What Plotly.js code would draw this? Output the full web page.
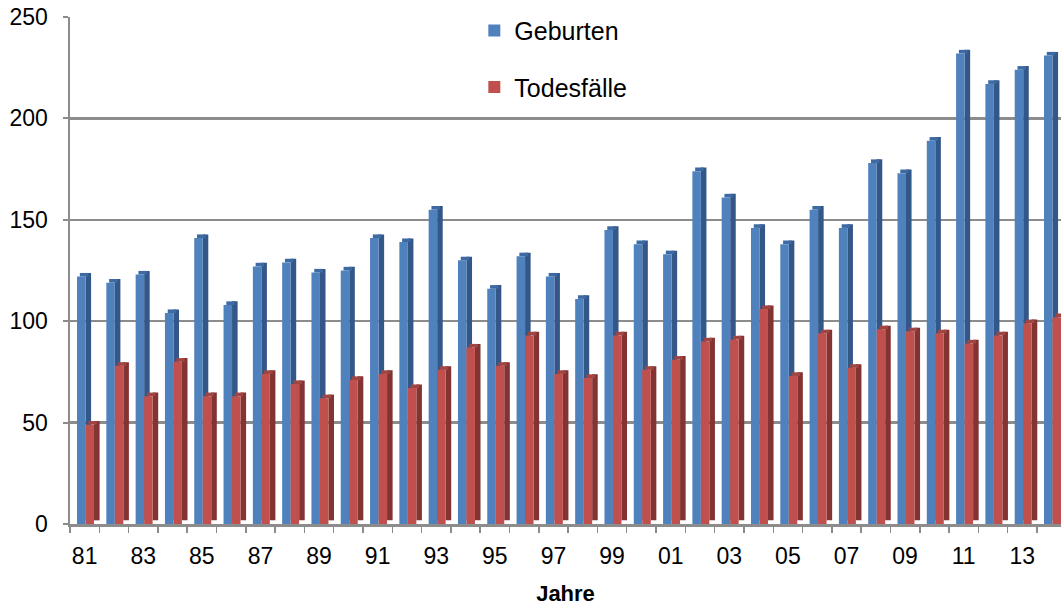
<!DOCTYPE html>
<html>
<head>
<meta charset="utf-8">
<script src="https://cdn.plot.ly/plotly-3.0.1.min.js"></script>
<style>html,body{margin:0;padding:0;background:#fff;}#chart{width:1061px;height:606px;}</style>
</head>
<body>
<div id="chart"></div>
<script>
// Data
var years = ['81','82','83','84','85','86','87','88','89','90','91','92','93','94','95','96','97','98','99','00','01','02','03','04','05','06','07','08','09','10','11','12','13','14'];
var geburten = [122,119,123,104,141,108,127,129,124,125,141,139,155,130,116,132,122,111,145,138,133,174,161,146,138,155,146,178,173,189,232,217,224,231];
var todesfaelle = [49,78,63,80,63,63,74,69,62,71,74,67,76,87,78,93,74,72,93,76,81,90,91,106,73,94,77,96,95,94,89,93,99,102];
var seriesNames = ['Geburten', 'Todesfälle'];
var tickLabels = years.map(function(y, i){ return i % 2 === 0 ? y : ''; });

var FONT = '"Liberation Sans", Arial, sans-serif';
var dy = 1.8;          // pseudo-3D depth in value units
var fw = 0.29;         // front face width (category units)
var sw = 0.19;         // side face width

function depthArr(arr){ return arr.map(function(){ return dy; }); }

function series3D(vals, name, off, cFront, cSide, cCap, grp){
  return [
    {type:'bar', x:years, y:vals, base:dy, offset:off+fw, width:sw,
     marker:{color:cSide}, showlegend:false, hoverinfo:'skip'},
    {type:'bar', x:years, y:depthArr(vals), base:vals, offset:off+sw/2, width:fw,
     marker:{color:cCap}, showlegend:false, hoverinfo:'skip'},
    {type:'bar', x:years, y:vals, base:0, offset:off, width:fw, name:name,
     legendgroup:grp, marker:{color:cFront}}
  ];
}

var traces = [].concat(
  series3D(geburten, seriesNames[0], -0.26, '#4F81BD', '#34578A', '#3E6AA3', 'g'),
  series3D(todesfaelle, seriesNames[1], 0.03, '#C0504D', '#833331', '#A04542', 'r')
);

var layout = {
  width:1061, height:606,
  margin:{l:70, r:0, t:17, b:82},
  paper_bgcolor:'#fff', plot_bgcolor:'#fff',
  barmode:'overlay',
  font:{family:FONT, size:23, color:'#000'},
  showlegend:true,
  legend:{x:0.408, y:1.018, xanchor:'left', yanchor:'top', bgcolor:'rgba(0,0,0,0)',
          font:{family:FONT, size:25, color:'#000'}, traceorder:'grouped', tracegroupgap:21},
  xaxis:{type:'category', range:[-0.5, 33.32], tickmode:'array', tickvals:years, ticktext:tickLabels,
         tickangle:0,
         tickson:'boundaries', ticks:'outside', ticklen:6, tickwidth:1.5, tickcolor:'#8C8C8C',
         showline:true, linecolor:'#8C8C8C', linewidth:2.5, showgrid:false, zeroline:false,
         ticklabelstandoff:10, tickfont:{family:FONT, size:23, color:'#000'},
         title:{text:'<b>Jahre</b>', font:{family:FONT, size:22, color:'#000'}, standoff:21},
         automargin:false, fixedrange:true},
  yaxis:{range:[0,250], dtick:50, tick0:0, ticks:'outside', ticklen:5, tickwidth:2, tickcolor:'#8C8C8C',
         showline:true, linecolor:'#8C8C8C', linewidth:2.5, showgrid:true, gridcolor:'#8C8C8C', gridwidth:2.5,
         zeroline:false, ticklabelstandoff:10, tickfont:{family:FONT, size:23, color:'#000'},
         automargin:false, fixedrange:true}
};

Plotly.newPlot('chart', traces, layout, {staticPlot:true, displayModeBar:false});
</script>
</body>
</html>
